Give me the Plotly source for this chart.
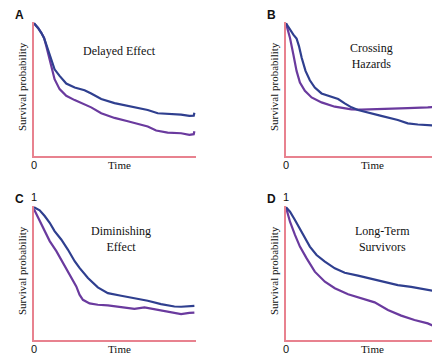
import plotly.graph_objects as go

W, H = 440, 355

# ---- data (time in arbitrary units 0-10, survival probability 0-1) ----
a_blue_t = [0, 0.25, 0.45, 0.62, 0.76, 0.90, 1.07, 1.27, 1.58, 1.99, 2.51, 3.12, 3.53, 4.15, 4.97, 5.79, 6.61, 7.02, 7.64, 8.25, 9.08, 9.59, 9.86, 9.90]
a_blue_s = [0.99, 0.956, 0.919, 0.881, 0.832, 0.783, 0.709, 0.647, 0.598, 0.541, 0.511, 0.491, 0.467, 0.425, 0.395, 0.375, 0.356, 0.343, 0.319, 0.314, 0.309, 0.299, 0.301, 0.323]
a_purp_t = [0, 0.25, 0.45, 0.62, 0.76, 0.90, 1.07, 1.27, 1.58, 1.99, 2.51, 3.12, 3.53, 4.15, 4.97, 5.79, 6.61, 7.02, 7.54, 8.25, 9.08, 9.59, 9.86, 9.90]
a_purp_s = [0.99, 0.956, 0.919, 0.881, 0.820, 0.746, 0.659, 0.573, 0.499, 0.449, 0.417, 0.388, 0.363, 0.319, 0.284, 0.259, 0.235, 0.220, 0.190, 0.175, 0.170, 0.158, 0.163, 0.185]

b_blue_t = [0, 0.25, 0.46, 0.66, 0.81, 0.98, 1.22, 1.49, 1.80, 2.22, 2.84, 3.26, 3.67, 4.09, 4.50, 5.12, 5.95, 6.99, 7.61, 8.24, 8.86, 9.48, 9.85, 9.94]
b_blue_s = [0.99, 0.943, 0.906, 0.877, 0.820, 0.733, 0.635, 0.565, 0.511, 0.467, 0.442, 0.425, 0.393, 0.363, 0.343, 0.323, 0.299, 0.269, 0.244, 0.235, 0.230, 0.225, 0.215, 0.240]
b_purp_t = [0, 0.25, 0.46, 0.66, 0.87, 1.18, 1.60, 2.22, 3.05, 4.09, 4.71, 5.54, 6.37, 7.61, 8.86, 9.59, 9.85, 9.94]
b_purp_s = [0.99, 0.881, 0.758, 0.635, 0.548, 0.486, 0.437, 0.400, 0.368, 0.348, 0.346, 0.351, 0.356, 0.358, 0.363, 0.368, 0.370, 0.378]

c_blue_t = [0, 0.35, 0.66, 0.97, 1.27, 1.68, 2.09, 2.51, 2.81, 3.33, 3.94, 4.56, 5.38, 6.20, 7.02, 7.84, 8.67, 9.08, 9.59, 9.90]
c_blue_s = [0.99, 0.968, 0.925, 0.875, 0.813, 0.750, 0.675, 0.588, 0.538, 0.463, 0.393, 0.350, 0.330, 0.313, 0.293, 0.268, 0.250, 0.248, 0.253, 0.255]
c_purp_t = [0, 0.25, 0.66, 0.97, 1.38, 1.79, 2.20, 2.61, 2.81, 3.02, 3.43, 3.94, 4.56, 5.38, 6.20, 6.82, 7.43, 8.25, 9.08, 9.59, 9.90]
c_purp_s = [0.975, 0.913, 0.813, 0.738, 0.663, 0.575, 0.488, 0.400, 0.338, 0.300, 0.273, 0.263, 0.258, 0.243, 0.233, 0.243, 0.228, 0.213, 0.193, 0.203, 0.205]

d_blue_t = [0, 0.25, 0.56, 0.87, 1.18, 1.49, 1.91, 2.43, 3.05, 3.67, 4.50, 5.33, 6.16, 6.99, 7.82, 8.65, 9.27, 9.85, 9.94]
d_blue_s = [0.99, 0.958, 0.896, 0.833, 0.771, 0.697, 0.634, 0.585, 0.535, 0.502, 0.480, 0.455, 0.435, 0.410, 0.396, 0.381, 0.366, 0.366, 0.376]
d_purp_t = [0, 0.25, 0.56, 0.87, 1.29, 1.80, 2.43, 3.05, 3.88, 4.71, 5.54, 6.37, 7.20, 8.03, 8.86, 9.48, 10.0]
d_purp_s = [0.99, 0.883, 0.784, 0.697, 0.609, 0.510, 0.435, 0.386, 0.341, 0.311, 0.281, 0.224, 0.182, 0.149, 0.124, 0.092, 0.062]

panel_letters = ["A", "B", "C", "D"]
panel_titles = ["Delayed Effect", "Crossing<br>Hazards", "Diminishing<br>Effect", "Long-Term<br>Survivors"]
y_title = "Survival probability"
x_title = "Time"

BLUE = "#2F3F8F"
PURPLE = "#6A3A9E"
AXIS = "#E8828F"

# ---- layout geometry (pixels) ----
# (x0, x1, y_bottom, y_top) for each panel
panels = [
    (26, 188, 148, 14),
    (278, 438, 148, 14),
    (26, 188, 332, 198),
    (278, 438, 332, 198),
]

def px(x):
    return x / W

def py(y):
    return 1 - y / H

series = [
    (a_blue_t, a_blue_s, a_purp_t, a_purp_s),
    (b_blue_t, b_blue_s, b_purp_t, b_purp_s),
    (c_blue_t, c_blue_s, c_purp_t, c_purp_s),
    (d_blue_t, d_blue_s, d_purp_t, d_purp_s),
]

fig = go.Figure()
annotations = []
serif = "Liberation Serif"
sans = "Liberation Sans"
TXT = "#111111"

for i, ((x0, x1, yb, yt), (bt, bs, pt, ps)) in enumerate(zip(panels, series)):
    n = "" if i == 0 else str(i + 1)
    xa, ya = "x" + n, "y" + n
    fig.add_trace(go.Scatter(x=pt, y=ps, mode="lines", line=dict(color=PURPLE, width=2.2),
                             xaxis=xa, yaxis=ya, showlegend=False, hoverinfo="skip"))
    fig.add_trace(go.Scatter(x=bt, y=bs, mode="lines", line=dict(color=BLUE, width=2.2),
                             xaxis=xa, yaxis=ya, showlegend=False, hoverinfo="skip"))
    fig.layout["xaxis" + n] = dict(domain=[px(x0), px(x1)], range=[0, 10], anchor=ya,
                                   showline=True, linecolor=AXIS, linewidth=1.5,
                                   showgrid=False, zeroline=False, showticklabels=False, ticks="")
    fig.layout["yaxis" + n] = dict(domain=[py(yb), py(yt)], range=[0, 1], anchor=xa,
                                   showline=True, linecolor=AXIS, linewidth=1.5,
                                   showgrid=False, zeroline=False, showticklabels=False, ticks="")
    # panel letter
    annotations.append(dict(text="<b>" + panel_letters[i] + "</b>", x=px(x0 - 15), y=py(yt - 7),
                            xref="paper", yref="paper", showarrow=False,
                            font=dict(family=sans, size=12, color=TXT), xanchor="center", yanchor="middle"))
    # zero label
    annotations.append(dict(text="0", x=px(x0), y=py(yb + 9), xref="paper", yref="paper", showarrow=False,
                            font=dict(family=sans, size=11, color=TXT), xanchor="center", yanchor="middle"))
    if i >= 2:
        annotations.append(dict(text="1", x=px(x0), y=py(yt - 9), xref="paper", yref="paper", showarrow=False,
                                font=dict(family=sans, size=11, color=TXT), xanchor="center", yanchor="middle"))
    # x title
    annotations.append(dict(text=x_title, x=px(x0 + 86), y=py(yb + 9), xref="paper", yref="paper", showarrow=False,
                            font=dict(family=serif, size=11, color=TXT), xanchor="center", yanchor="middle"))
    # y title
    annotations.append(dict(text=y_title, x=px(x0 - 12), y=py((yb + yt) / 2 - 2), xref="paper", yref="paper",
                            showarrow=False, textangle=-90,
                            font=dict(family=serif, size=11, color=TXT), xanchor="center", yanchor="middle"))

title_pos = [(112, 43), (363, 48), (113, 231), (374, 231)]
for (tx, ty), t in zip(title_pos, panel_titles):
    annotations.append(dict(text=t, x=px(tx), y=py(ty), xref="paper", yref="paper", showarrow=False,
                            font=dict(family=serif, size=12, color=TXT), xanchor="center", yanchor="middle"))

fig.update_layout(width=W, height=H, margin=dict(l=0, r=0, t=0, b=0),
                  paper_bgcolor="white", plot_bgcolor="white", annotations=annotations)

fig.write_html("out.html")
